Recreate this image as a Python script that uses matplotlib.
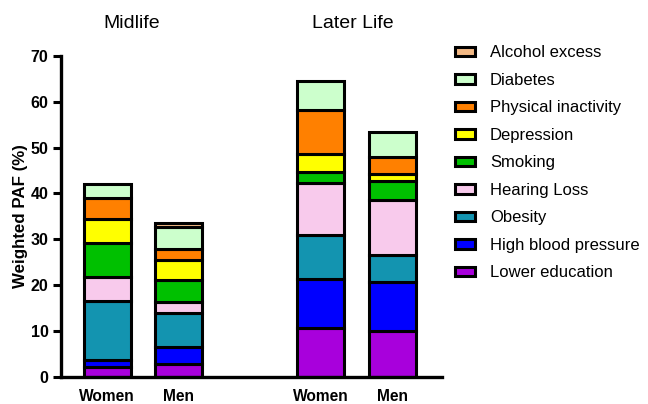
import matplotlib
matplotlib.use("Agg")
import matplotlib.pyplot as plt
from matplotlib.patches import Patch
import numpy as np

plt.rcParams['font.family'] = ['Liberation Sans', 'DejaVu Sans']

groups = ["Midlife", "Later Life"]
bar_labels = ["Women", "Men", "Women", "Men"]
factors = ["Lower education", "High blood pressure", "Obesity", "Hearing Loss",
           "Smoking", "Depression", "Physical inactivity", "Diabetes", "Alcohol excess"]
colors = ["#A800DC", "#0000FF", "#1394B0", "#F8CAEC", "#00C000", "#FFFF00",
          "#FF8000", "#CCFFCC", "#F2B884"]

# segment values (PAF %) per bar: Midlife Women, Midlife Men, Later Women, Later Men
lower_education = [2.1, 2.7, 10.5, 10.0]
high_bp = [1.5, 3.7, 10.9, 10.7]
obesity = [12.9, 7.5, 9.5, 5.8]
hearing_loss = [5.3, 2.4, 11.4, 12.0]
smoking = [7.3, 4.8, 2.4, 4.3]
depression = [5.4, 4.3, 3.9, 1.4]
physical_inactivity = [4.6, 2.4, 9.6, 3.8]
diabetes = [2.9, 4.9, 6.3, 5.5]
alcohol_excess = [0.0, 0.9, 0.0, 0.0]

series = [lower_education, high_bp, obesity, hearing_loss, smoking, depression,
          physical_inactivity, diabetes, alcohol_excess]

x = np.array([0, 1, 3, 4])

fig = plt.figure(figsize=(6.48, 4.04), dpi=100)
ax = fig.add_axes([0.094, 0.068, 0.588, 0.793])

bottom = np.zeros(4)
for vals, c, name in zip(series, colors, factors):
    v = np.array(vals)
    mask = v > 0
    ax.bar(x[mask], v[mask], bottom=bottom[mask], width=0.66, color=c,
           edgecolor="black", linewidth=2.2, label=name)
    bottom += v

ax.set_xlim(-0.65, 4.7)
ax.set_ylim(0, 70)
ax.set_yticks(range(0, 71, 10))
ax.set_xticks(x)
ax.set_xticklabels(bar_labels, fontweight="bold", fontsize=11.2)
for t in ax.get_yticklabels():
    t.set_fontweight("bold")
    t.set_fontsize(11.5)
ax.tick_params(axis="y", width=2.2, length=6, pad=3)
ax.tick_params(axis="x", length=0, pad=9)
ax.set_ylabel("Weighted PAF (%)", fontweight="bold", fontsize=12.2, labelpad=2)
for s in ["top", "right"]:
    ax.spines[s].set_visible(False)
for s in ["left", "bottom"]:
    ax.spines[s].set_linewidth(2.4)

ax.text(0.34, 1.103, groups[0], transform=ax.get_xaxis_transform(), ha="center",
        va="center", fontsize=14)
ax.text(3.455, 1.103, groups[1], transform=ax.get_xaxis_transform(), ha="center",
        va="center", fontsize=14)

handles = [Patch(facecolor=c, edgecolor="black", linewidth=2.2, label=n)
           for c, n in zip(colors, factors)]
fig.legend(handles=handles[::-1], loc="upper left", bbox_to_anchor=(0.679, 0.925),
           frameon=False, fontsize=12, handlelength=1.2, handleheight=0.5,
           labelspacing=0.75, handletextpad=0.9)

fig.savefig("out.png", dpi=100)
